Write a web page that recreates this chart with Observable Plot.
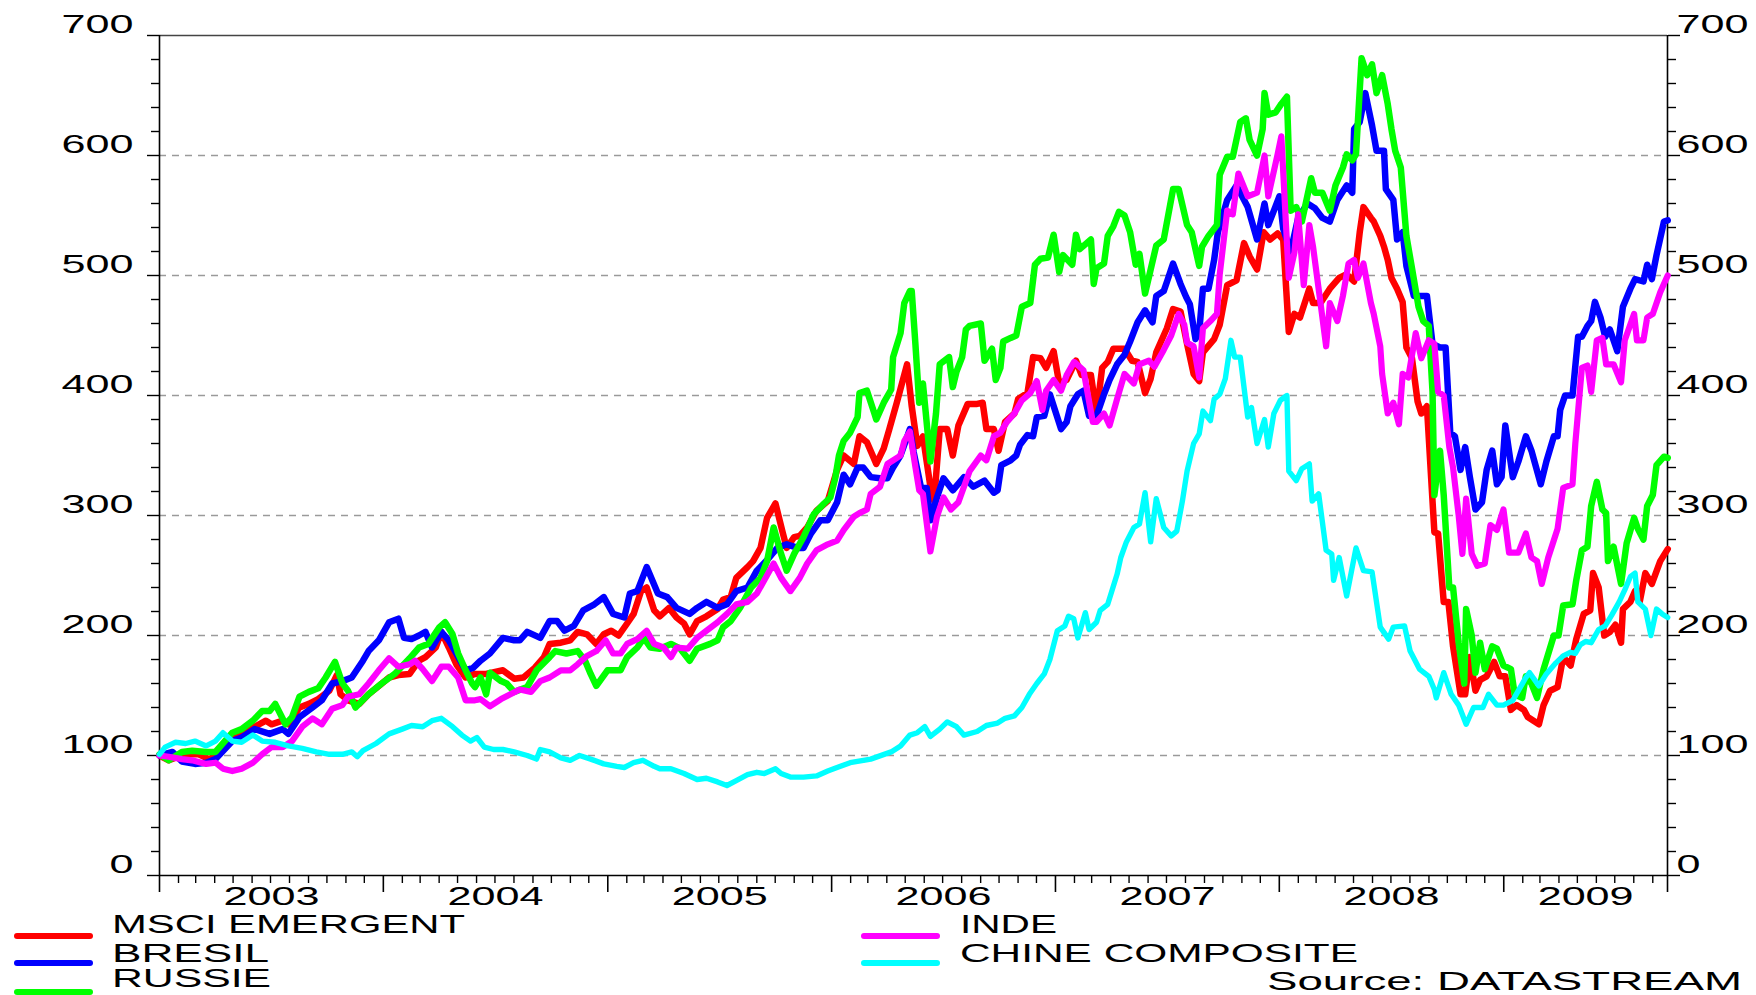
<!DOCTYPE html>
<html><head><meta charset="utf-8">
<script src="https://cdn.jsdelivr.net/npm/d3@7"></script>
<script src="https://cdn.jsdelivr.net/npm/@observablehq/plot@0.6"></script>
<style>
body{margin:0;background:#fff;}
#chart{width:1756px;height:995px;overflow:hidden;background:#fff;}
#chart svg{display:block;}
</style></head><body><div id="chart"></div>
<script>
// ---------- DATA ----------
const seriesNames = ["MSCI EMERGENT", "BRESIL", "RUSSIE", "INDE", "CHINE COMPOSITE"];
const seriesColors = ["#ff0000", "#0000ff", "#00ff00", "#ff00ff", "#00ffff"];
const yTickLabels = [0, 100, 200, 300, 400, 500, 600, 700];
const yGridValues = [100, 200, 300, 400, 500, 600];
const yearLabels = [2003, 2004, 2005, 2006, 2007, 2008, 2009];
const startDate = "2003-01-01";
const endDate = "2009-09-25";
const sourceText = "Source: DATASTREAM";

// months elapsed since 1 Jan 2003, and index values (base 100)
const msciMonths = [0,0.5,1,1.6,2.1,2.65,3.2,3.6,4.1,4.6,5.1,5.7,6,6.6,6.9,7.5,8,8.5,9.1,9.5,9.7,10.1,10.7,11.2,11.75,12.3,12.8,13.4,13.9,14.25,14.8,15.1,15.5,15.9,16.4,16.9,17.5,18.4,19,19.5,20.1,20.6,20.9,21.5,22,22.4,22.9,23.4,23.8,24.2,24.6,25.05,25.4,25.8,26.1,26.5,26.8,27.3,27.7,28.1,28.4,28.8,29.3,29.9,30.2,30.6,30.9,31.5,31.8,32.2,32.55,33,33.4,33.6,34,34.3,34.7,35.2,35.8,36.3,36.65,37.2,37.5,37.9,38.4,38.8,39.1,39.5,40.05,40.3,40.6,40.9,41.3,41.5,41.8,42.2,42.5,42.8,43.3,43.8,44.1,44.3,44.7,44.95,45.3,45.8,46,46.5,46.8,47.2,47.5,47.9,48.2,48.6,49.1,49.4,49.9,50.2,50.5,50.8,51.1,51.7,52.1,52.4,52.8,53.1,53.4,53.97,54.3,54.7,55.05,55.4,55.7,55.9,56.5,56.8,57.2,57.7,58.1,58.4,58.8,59.15,59.5,59.9,60.2,60.5,60.8,61.1,61.6,61.8,62.2,62.7,63.2,63.6,64,64.3,64.5,64.9,65.05,65.4,65.6,65.8,66,66.3,66.6,66.8,67.1,67.4,67.6,67.9,68.1,68.3,68.5,68.8,69.05,69.3,69.7,69.95,70.2,70.5,70.75,71.1,71.5,71.8,72.1,72.4,72.7,73.1,73.3,73.9,74.15,74.5,74.9,75.2,75.6,75.9,76.3,76.65,76.8,77.1,77.4,77.7,78,78.3,78.4,78.8,79.05,79.3,79.6,79.95,80.4,80.8];
const msciValues = [100,96,99,101,101,97,101,112,117,121,124,129,126,129,126,140,143,147,154,167,151,146,143,151,158,165,167,168,179,182,190,203,190,176,165,168,168,171,164,165,173,182,193,194,196,203,201,193,201,204,200,210,218,237,240,221,216,223,215,210,201,212,216,222,230,232,248,257,262,273,298,310,285,273,282,283,290,304,312,338,350,343,366,361,343,356,372,394,426,391,358,366,324,312,372,372,350,375,393,393,394,372,372,354,378,385,397,402,432,431,423,437,410,413,429,417,417,385,423,428,439,439,429,428,402,414,436,456,472,470,443,418,412,436,447,459,492,496,527,516,505,536,530,535,530,453,468,465,489,477,477,489,498,501,495,536,557,548,545,533,524,513,498,489,478,440,431,395,385,391,338,286,285,228,228,191,151,151,182,154,163,166,178,166,166,138,142,138,132,126,142,154,157,182,175,197,218,221,252,240,200,203,209,194,222,228,237,228,252,243,262,272];

const bresilMonths = [0,0.7,1.2,1.9,2.5,3,3.9,4.4,5.1,5.9,6.6,6.9,7.5,8.2,8.7,9.25,9.8,10.3,10.9,11.2,11.75,12.3,12.8,13.1,13.5,13.9,14.25,14.6,15.1,15.5,15.9,16.4,16.8,17.2,17.7,18.4,19,19.3,19.7,20.4,20.9,21.3,21.7,22.2,22.7,23.3,23.8,24.3,24.9,25.2,25.6,26.1,26.7,27.2,27.7,28.4,28.8,29.3,29.9,30.4,30.9,31.5,32,32.5,33.1,33.6,34.2,34.5,34.9,35.4,35.8,36.3,36.65,37,37.4,37.7,38.1,38.6,39,39.3,39.7,40.2,40.4,40.8,41.1,41.3,41.65,42,42.5,43.1,43.6,44.2,44.7,44.9,45.1,45.6,45.9,46.1,46.5,46.8,47,47.4,47.7,48.3,48.6,48.8,49.2,49.5,49.8,50.2,50.6,50.9,51.3,51.7,52,52.4,52.8,53.2,53.4,53.8,54,54.3,54.7,55,55.2,55.5,55.7,55.9,56.2,56.5,56.7,57.2,57.7,58.3,58.8,59.2,59.4,60,60.2,60.6,61,61.5,61.9,62.3,62.7,63.1,63.6,63.9,64,64.3,64.6,64.96,65.2,65.6,65.7,66.1,66.3,66.6,66.8,67.2,67.9,68.2,68.6,68.9,69.15,69.4,69.7,69.95,70.2,70.5,70.85,71.1,71.4,71.65,71.9,72.1,72.5,72.8,73.2,73.5,74,74.3,74.7,74.9,75.04,75.3,75.7,76,76.2,76.5,76.7,76.9,77.2,77.45,77.7,78.1,78.4,78.8,79.05,79.5,79.7,79.95,80.2,80.6,80.8];
const bresilValues = [100,103,95,93,94,97,112,115,122,118,122,118,132,140,146,160,162,165,179,187,196,211,214,198,197,200,203,190,203,196,185,171,173,179,185,198,196,196,203,198,212,212,204,208,221,226,232,218,215,235,237,257,235,232,223,218,223,228,223,226,237,240,254,262,273,276,273,273,285,296,296,311,334,326,340,340,332,331,331,340,350,372,353,323,323,296,315,331,321,332,324,329,319,321,342,346,350,359,367,366,382,383,401,372,378,391,401,404,383,383,401,413,426,434,445,461,471,461,483,487,496,510,493,482,476,447,453,489,489,513,536,563,575,557,530,560,542,566,539,520,548,560,556,548,545,563,575,569,622,628,652,625,604,604,572,563,530,536,508,483,483,443,440,440,369,366,338,357,332,305,311,338,354,326,332,375,332,345,366,354,326,345,366,366,388,400,400,449,449,458,462,478,465,449,455,437,474,489,497,495,509,497,517,545,546];

const russieMonths = [0,0.5,1.2,1.75,2.5,3,3.5,3.9,4.4,5,5.5,5.9,6.2,6.75,7.1,7.5,8,8.5,8.9,9.4,9.8,10.1,10.5,11.2,11.9,12.6,13.4,13.9,14.4,15,15.3,15.7,16,16.4,16.75,16.9,17.2,17.5,17.7,18.3,18.6,19,19.7,20.2,20.9,21.2,21.8,22.4,22.8,23.1,23.4,24,24.7,25.05,25.6,25.95,26.3,26.8,27.4,27.9,28.4,28.8,29.5,29.9,30.2,30.6,31.1,31.7,32.2,32.55,32.9,33.3,33.6,34,34.5,35.05,35.6,35.94,36.2,36.4,36.65,37,37.4,37.5,37.9,38.3,38.4,38.8,39.2,39.3,39.7,39.9,40.2,40.3,40.5,40.7,40.9,41.3,41.6,41.8,42.3,42.5,42.7,43,43.2,43.4,44,44.2,44.6,44.8,45.05,45.2,45.6,45.9,46.2,46.65,46.9,47.2,47.6,47.9,48.2,48.4,48.9,49.1,49.3,49.9,50.05,50.2,50.6,50.8,51.1,51.4,51.7,52,52.3,52.5,52.8,53.1,53.4,53.8,54.3,54.6,55.05,55.3,55.7,55.85,56.2,56.65,56.8,57.2,57.5,57.9,58.2,58.4,58.8,59.1,59.2,59.4,59.8,60.1,60.4,60.6,60.9,61.2,61.7,61.9,62.3,62.7,63,63.4,63.6,63.9,64.1,64.2,64.4,64.7,64.96,65.2,65.5,65.8,66,66.2,66.5,66.8,67.1,67.45,67.7,68,68.2,68.3,68.6,68.8,69.1,69.3,69.6,69.9,70,70.3,70.5,70.75,71,71.4,71.65,72,72.4,72.6,73,73.2,73.5,73.8,74.15,74.7,74.95,75.2,75.7,75.9,76.2,76.5,76.7,77,77.3,77.5,77.6,77.9,78.3,78.6,79,79.2,79.5,79.7,80,80.2,80.6,80.8];
const russieValues = [101,96,103,104,103,103,112,119,122,129,137,137,143,126,132,149,153,156,165,178,160,154,140,151,160,168,181,190,193,207,211,201,185,171,160,157,165,151,169,162,160,153,157,171,182,187,185,187,179,168,158,171,171,182,190,198,190,189,193,189,179,189,193,196,207,212,223,240,248,262,290,268,254,268,282,301,310,315,331,350,362,369,382,402,404,385,380,394,405,432,452,477,487,487,442,394,410,345,385,426,432,407,420,432,455,458,460,429,439,413,423,445,448,450,474,477,509,514,515,534,503,517,509,534,522,530,493,506,510,533,541,553,550,536,509,518,485,505,525,530,572,572,542,536,508,524,533,542,584,599,599,628,631,613,600,622,652,634,636,643,649,554,557,545,581,569,569,554,575,590,601,596,601,628,681,667,676,652,667,643,622,604,590,533,506,474,462,458,403,317,354,317,240,240,194,160,222,200,169,194,172,191,189,175,172,151,148,166,160,148,172,200,200,225,226,246,271,274,308,328,305,302,262,274,243,277,298,289,280,308,317,342,349,348];

const indeMonths = [0,0.5,1.2,1.75,2.5,3,3.4,3.9,4.4,5,5.5,6,6.6,7.1,7.65,8.2,8.7,9.25,9.8,10.1,10.7,11.2,11.75,12.3,12.8,13.4,13.7,14.1,14.6,15.1,15.5,16,16.4,16.9,17.2,17.7,18.3,18.8,19.3,19.9,20.4,20.9,21.5,22,22.4,22.9,23.4,23.9,24.3,24.7,25.05,25.6,26.1,26.5,27,27.4,27.7,28.3,28.8,29.3,29.9,30.4,30.9,31.5,32,32.4,32.9,33.3,33.8,34.3,34.7,35.2,35.8,36.3,36.66,37.2,37.5,37.9,38.1,38.6,39,39.3,39.7,39.9,40.2,40.5,40.7,40.9,41.3,41.65,42,42.4,42.8,43.4,44,44.3,44.7,45.05,45.4,45.8,46.2,46.65,47,47.3,47.5,47.9,48.3,48.6,49,49.5,50,50.2,50.6,50.9,51.3,51.7,52.2,52.5,53,53.3,53.8,54.2,54.6,54.9,55.05,55.4,55.7,55.9,56.3,56.65,56.8,57.2,57.5,57.8,58.3,58.8,59.2,59.4,59.9,60.1,60.5,60.8,61,61.3,61.6,61.8,62.2,62.5,62.7,63.1,63.4,63.7,64,64.2,64.5,64.9,65.05,65.4,65.5,65.8,66.1,66.4,66.6,66.9,67.3,67.6,68,68.3,68.5,68.8,69.1,69.3,69.6,69.8,70,70.3,70.6,71,71.3,71.65,72,72.3,72.8,73.2,73.5,73.8,74.05,74.4,74.9,75.2,75.7,75.85,76.2,76.5,76.7,77,77.3,77.5,77.9,78.3,78.5,79,79.15,79.5,79.7,80,80.4,80.8];
const indeValues = [100,99,97,96,93,94,89,87,89,94,101,107,107,112,124,131,126,139,142,149,151,160,171,181,174,176,179,172,162,174,174,165,146,146,147,141,147,151,155,153,162,165,171,171,176,183,187,196,185,185,193,197,204,193,190,182,190,189,198,204,211,218,226,228,235,246,260,248,237,248,260,271,276,279,288,299,302,305,318,324,343,346,350,362,370,340,321,318,270,299,315,305,311,337,350,346,366,369,378,385,396,402,412,388,404,413,404,417,428,421,378,378,385,375,397,418,410,426,429,424,438,450,468,459,444,441,415,456,462,468,501,554,551,585,566,569,600,566,601,616,498,519,551,492,542,524,477,441,477,462,483,510,513,498,510,477,468,441,418,385,394,376,418,415,452,431,446,443,403,400,357,340,300,268,314,268,258,260,292,288,305,269,269,285,265,262,243,265,289,323,326,360,423,425,403,446,448,426,426,411,446,468,446,446,465,468,486,500];

const chineMonths = [0,0.3,0.86,1.4,1.9,2.5,3,3.4,3.9,4.4,5,5.5,6.2,6.9,7.65,8.4,9.1,9.8,10.3,10.6,10.9,11.6,12.3,13,13.5,14.1,14.6,15.1,15.7,16.2,16.66,17,17.4,17.9,18.4,19,19.7,20.2,20.4,20.9,21.5,22,22.5,23.1,23.8,24.5,24.9,25.4,25.9,26.5,26.8,27.4,28.1,28.8,29.3,29.9,30.4,30.9,31.5,32,32.4,33,33.3,33.8,34.5,35.2,35.8,36.3,37,38.1,39.2,39.7,40.2,40.6,41,41.3,41.8,42.2,42.7,43.1,43.8,44.3,44.9,45.3,45.8,46.2,46.6,47,47.4,47.7,48.1,48.5,48.7,48.98,49.2,49.6,49.8,50.2,50.4,50.8,51.3,51.5,51.8,52.2,52.5,52.8,53.1,53.4,53.8,54.2,54.5,54.8,55.05,55.4,55.7,55.9,56.3,56.5,56.8,57.1,57.4,57.6,57.9,58.3,58.5,58.8,59.2,59.4,59.7,60.05,60.4,60.5,60.9,61.2,61.6,61.75,62.1,62.5,62.8,62.9,63.2,63.6,64.1,64.5,64.96,65.4,65.85,66.1,66.7,67,67.5,68,68.3,68.4,68.8,69.2,69.6,70,70.4,70.9,71.2,71.65,72,72.5,72.8,73.2,73.4,73.9,74.3,74.8,75.2,75.6,75.85,76.1,76.4,76.7,77.1,77.45,77.8,78.2,78.5,78.8,79.05,79.2,79.6,79.9,80.2,80.5,80.8];
const chineValues = [101,107,111,110,112,108,112,119,112,111,117,112,111,108,106,103,101,101,103,99,104,110,118,122,125,124,129,131,124,117,112,115,107,105,105,103,100,97,105,103,98,96,100,97,93,91,90,94,96,91,89,89,85,80,81,78,75,79,84,86,85,89,85,82,82,83,87,90,94,97,103,108,117,119,124,116,122,128,124,117,120,125,127,131,133,140,151,160,168,180,204,208,216,214,198,219,205,211,221,226,251,265,278,290,293,319,278,314,290,283,287,312,337,360,368,387,379,397,401,414,446,432,432,382,390,360,380,357,385,396,400,337,329,339,343,312,318,271,268,246,265,233,273,254,253,207,197,207,208,187,172,166,155,148,169,151,142,126,140,140,151,142,142,146,154,165,169,158,168,177,183,186,185,192,195,194,205,208,217,228,238,249,252,228,222,200,222,218,215];

// ---------- LAYOUT / STYLE (not data) ----------
const W = 1756, H_PLOT = 910, H_LEG = 85;
const FONT = "'Liberation Sans', Arial, sans-serif";
const CHAR_W = 24; // stretched glyph width of tick labels

const seriesMonths = [msciMonths, bresilMonths, russieMonths, indeMonths, chineMonths];
const seriesValues = [msciValues, bresilValues, russieValues, indeValues, chineValues];
const strokeWidths = [6.5, 6.5, 6.5, 6.2, 5.4];

const t0 = Date.UTC(2003, 0, 1);
const monthToDate = m => new Date(t0 + m * 30.4375 * 864e5);

const x0 = new Date(startDate + "T00:00:00Z");
const x1 = new Date(endDate + "T00:00:00Z");

const seriesData = seriesNames.map((name, i) =>
  seriesMonths[i].map((m, j) => ({name, date: monthToDate(m), value: seriesValues[i][j]})));

const yearStarts = d3.utcYear.range(x0, x1).concat([x1]);
const monthTicks = d3.utcMonth.range(x0, x1).filter(d => d.getUTCMonth() !== 0);
const yearMids = yearLabels.map(y => {
  const a = Date.UTC(y, 0, 1), b = Math.min(Date.UTC(y + 1, 0, 1), +x1);
  return new Date((a + b) / 2);
});
const yMinor = d3.range(0, 701, 20).filter(v => v % 100 !== 0);

const marks = [
  Plot.ruleY(yGridValues, {stroke: "#9a9a9a", strokeWidth: 1.4, strokeDasharray: "7,6"}),
  Plot.ruleY([0], {stroke: "#000", strokeWidth: 1.6}),
  Plot.ruleY([700], {stroke: "#444", strokeWidth: 1.6}),
  Plot.ruleX([x0, x1], {stroke: "#000", strokeWidth: 1.6}),
  Plot.axisY({anchor: "left", ticks: yMinor, tickSize: 8, tickFormat: () => "", label: null, strokeWidth: 1.4}),
  Plot.axisY({anchor: "left", ticks: yTickLabels, tickSize: 12, tickFormat: () => "", label: null, strokeWidth: 1.4}),
  Plot.axisY({anchor: "right", ticks: yMinor, tickSize: 8, tickFormat: () => "", label: null, strokeWidth: 1.4}),
  Plot.axisY({anchor: "right", ticks: yTickLabels, tickSize: 12, tickFormat: () => "", label: null, strokeWidth: 1.4}),
  Plot.axisY({anchor: "left", ticks: yTickLabels, tickSize: 0, tickPadding: 26, dy: -11, fontSize: 25, label: null, tickFormat: d => String(d)}),
  Plot.axisY({anchor: "right", ticks: yTickLabels, tickSize: 0, tickPadding: 9, dy: -11, fontSize: 25, label: null, tickFormat: d => String(d)}),
  Plot.axisX({ticks: monthTicks, tickSize: 8, tickFormat: () => "", label: null, strokeWidth: 1.4}),
  Plot.axisX({ticks: yearStarts, tickSize: 17, tickFormat: () => "", label: null, strokeWidth: 1.6}),
  Plot.axisX({ticks: yearMids, tickSize: 0, tickPadding: 12, fontSize: 25, label: null, tickFormat: d => String(d.getUTCFullYear())})
];
seriesData.forEach((data, i) => {
  marks.push(Plot.line(data, {x: "date", y: "value", stroke: seriesColors[i], strokeWidth: strokeWidths[i],
    strokeLinejoin: "round", strokeLinecap: "round"}));
});

const chart = Plot.plot({
  width: W, height: H_PLOT,
  marginLeft: 159, marginRight: 89, marginTop: 35, marginBottom: 35,
  x: {type: "utc", domain: [x0, x1]},
  y: {domain: [0, 700]},
  style: {fontFamily: FONT, fontSize: "25px", color: "#000", background: "#fff", overflow: "visible"},
  marks
});
const root = document.getElementById("chart");
root.appendChild(chart);

chart.querySelectorAll("text").forEach(t => {
  const s = t.textContent.trim();
  if (s) {
    t.setAttribute("textLength", CHAR_W * s.length);
    t.setAttribute("lengthAdjust", "spacingAndGlyphs");
  }
});

// ---------- LEGEND (below the chart) ----------
const legendLayout = [
  {sx: 17, tx: 112, ty: 23, ly: 26, w: 353},
  {sx: 17, tx: 112, ty: 52, ly: 53, w: 157},
  {sx: 17, tx: 112, ty: 77, ly: 82, w: 159},
  {sx: 864, tx: 960, ty: 23, ly: 26, w: 97},
  {sx: 864, tx: 960, ty: 52, ly: 53, w: 398}
];
const leg = d3.create("svg").attr("width", W).attr("height", H_LEG)
  .style("font-family", FONT).style("font-size", "25px").style("display", "block");
seriesNames.forEach((name, i) => {
  const L = legendLayout[i];
  leg.append("line").attr("x1", L.sx).attr("x2", L.sx + 73).attr("y1", L.ly).attr("y2", L.ly)
    .attr("stroke", seriesColors[i]).attr("stroke-width", 6).attr("stroke-linecap", "round");
  leg.append("text").attr("x", L.tx).attr("y", L.ty).attr("fill", "#000")
    .attr("textLength", L.w).attr("lengthAdjust", "spacingAndGlyphs").text(name);
});
leg.append("text").attr("x", 1267).attr("y", 80).attr("fill", "#000")
  .attr("textLength", 475).attr("lengthAdjust", "spacingAndGlyphs").text(sourceText);
root.appendChild(leg.node());
</script>
</body></html>
